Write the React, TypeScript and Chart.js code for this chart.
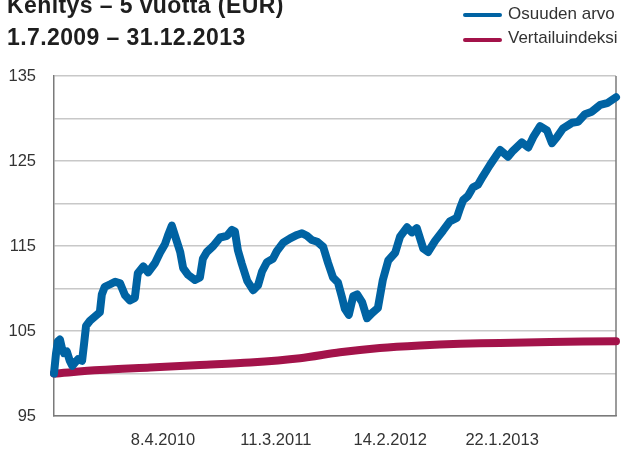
import React, { useEffect, useRef } from "react";
import { Chart, registerables } from "chart.js";

Chart.register(...registerables);

const titleLine1 = "Kehitys – 5 vuotta (EUR)";
const titleLine2 = "1.7.2009 – 31.12.2013";
const seriesNames = ["Osuuden arvo", "Vertailuindeksi"];
const seriesColors = ["#0063a3", "#a3134a"];

// Trading-day index (0 = 1.7.2009, 1140 = 31.12.2013)
const fundDays = [
  0, 4, 8, 12, 16, 20, 26, 32, 37, 43, 49, 57, 61, 65, 73, 83, 93, 97, 103, 114,
  124, 134, 144, 154, 164, 170, 181, 191, 205, 215, 225, 231, 239, 245, 256, 262,
  272, 286, 296, 302, 310, 323, 337, 351, 361, 367, 373, 381, 392, 404, 414, 422,
  432, 444, 452, 465, 479, 493, 503, 513, 523, 534, 546, 556, 566, 576, 584, 590,
  598, 607, 615, 625, 635, 645, 657, 667, 678, 692, 702, 716, 726, 736, 749, 759,
  773, 789, 803, 817, 824, 830, 840, 850, 860, 870, 884, 899, 905, 911, 921, 931,
  949, 962, 972, 986, 1000, 1010, 1020, 1032, 1051, 1063, 1077, 1091, 1108, 1122, 1140,
];
const fundValues = [
  100.0, 102.3, 103.8, 104.0, 103.0, 102.4, 102.6, 101.5, 100.9, 101.3, 101.7, 101.5, 103.5, 105.6, 106.2, 106.7, 107.2, 109.3, 110.2, 110.5,
  110.8, 110.6, 109.2, 108.6, 108.9, 111.8, 112.6, 111.9, 113.0, 114.2, 115.2, 116.2, 117.4, 116.3, 114.3, 112.4,
  111.6, 111.0, 111.3, 113.5, 114.3, 115.0, 116.0, 116.2, 116.9, 116.7, 114.5, 112.9, 110.9, 109.8, 110.4, 112.0,
  113.1, 113.5, 114.4, 115.4, 115.9, 116.3, 116.5, 116.2, 115.7, 115.5, 114.9, 113.0, 111.3, 110.7, 109.0, 107.6,
  106.9, 109.1, 109.3, 108.4, 106.5, 107.1, 107.7, 111.0, 113.3, 114.2, 116.1, 117.2, 116.6, 117.1, 114.7, 114.3,
  115.6, 116.8, 117.9, 118.3, 119.5, 120.4, 120.9, 121.9, 122.2, 123.2, 124.5, 125.8, 126.3, 126.0, 125.5, 126.2,
  127.2, 126.6, 127.8, 129.1, 128.6, 127.1, 127.8, 128.8, 129.5, 129.6, 130.5, 130.8, 131.6, 131.8, 132.5,
];

const indexDays = [0, 93, 195, 296, 398, 499, 580, 661, 742, 824, 905, 1006, 1140];
const indexValues = [100.0, 100.4, 100.7, 101.0, 101.3, 101.8, 102.5, 103.0, 103.3, 103.5, 103.6, 103.7, 103.8];

const xTickDays = [221, 450, 682, 909];
const xTickLabels = ["8.4.2010", "11.3.2011", "14.2.2012", "22.1.2013"];
const xMin = 0;
const xMax = 1140;
const yMin = 95;
const yMax = 135;
const yGridStep = 5;
const yLabelStep = 10;

const FONT = '"Liberation Sans", Arial, Helvetica, sans-serif';
const AXIS_COLOR = "#7a7a7a";

const frameRight = {
  id: "frameRight",
  beforeDatasetsDraw(chart: any) {
    const { ctx, chartArea } = chart;
    ctx.save();
    ctx.strokeStyle = AXIS_COLOR;
    ctx.lineWidth = 1.5;
    ctx.beginPath();
    ctx.moveTo(chartArea.right, chartArea.top);
    ctx.lineTo(chartArea.right, chartArea.bottom);
    ctx.stroke();
    ctx.restore();
  },
};

export default function App() {
  const canvasRef = useRef<HTMLCanvasElement | null>(null);

  useEffect(() => {
    const canvas = canvasRef.current;
    if (!canvas) return;
    const chart = new Chart(canvas, {
      type: "line",
      data: {
        datasets: [
          {
            label: seriesNames[0],
            data: fundDays.map((d, i) => ({ x: d, y: fundValues[i] })),
            borderColor: seriesColors[0],
            backgroundColor: seriesColors[0],
            borderWidth: 8,
            pointRadius: 0,
            tension: 0,
            borderJoinStyle: "round",
            borderCapStyle: "round",
            clip: false as any,
          },
          {
            label: seriesNames[1],
            data: indexDays.map((d, i) => ({ x: d, y: indexValues[i] })),
            borderColor: seriesColors[1],
            backgroundColor: seriesColors[1],
            borderWidth: 8,
            pointRadius: 0,
            tension: 0.3,
            borderJoinStyle: "round",
            borderCapStyle: "round",
            clip: false as any,
          },
        ],
      },
      options: {
        animation: false,
        responsive: false,
        maintainAspectRatio: false,
        layout: { padding: { left: 0, right: 6, top: 76, bottom: 0 } },
        plugins: {
          legend: { display: false },
          tooltip: { enabled: false },
          title: { display: false },
        },
        scales: {
          x: {
            type: "linear",
            min: xMin,
            max: xMax,
            afterBuildTicks: (s: any) => {
              s.ticks = xTickDays.map((v) => ({ value: v }));
            },
            afterFit: (s: any) => {
              s.height = 37;
            },
            ticks: {
              autoSkip: false,
              maxRotation: 0,
              padding: 15,
              color: "#333",
              font: { family: FONT, size: 16.5 },
              callback: (v: any) => {
                const i = xTickDays.indexOf(Number(v));
                return i >= 0 ? xTickLabels[i] : "";
              },
            },
            grid: { display: false, drawTicks: false },
            border: { display: true, color: AXIS_COLOR, width: 1.5 },
          },
          y: {
            type: "linear",
            min: yMin,
            max: yMax,
            afterFit: (s: any) => {
              s.width = 54;
            },
            ticks: {
              stepSize: yGridStep,
              padding: 18,
              color: "#333",
              font: { family: FONT, size: 16.5 },
              callback: (v: any) => ((Number(v) - yMin) % yLabelStep === 0 ? String(v) : ""),
            },
            grid: { color: "#c8c8c8", lineWidth: 1.5, drawTicks: false },
            border: { display: true, color: AXIS_COLOR, width: 1.5 },
          },
        },
      },
      plugins: [frameRight],
    });
    return () => chart.destroy();
  }, []);

  return (
    <div
      style={{
        position: "absolute",
        left: 0,
        top: 0,
        width: 622,
        height: 453,
        overflow: "hidden",
        background: "#fff",
        fontFamily: FONT,
      }}
    >
      <canvas ref={canvasRef} width={622} height={453} style={{ position: "absolute", left: 0, top: 0 }} />
      <div
        style={{
          position: "absolute",
          left: 7,
          top: -11,
          fontSize: 23,
          fontWeight: "bold",
          lineHeight: "32px",
          color: "#1e1e1e",
          whiteSpace: "nowrap",
          letterSpacing: 0.4,
        }}
      >
        <div>{titleLine1}</div>
        <div>{titleLine2}</div>
      </div>
      {seriesNames.map((name, i) => (
        <React.Fragment key={name}>
          <div
            style={{
              position: "absolute",
              left: 463,
              top: 13 + i * 24.5,
              width: 39,
              height: 4,
              borderRadius: 2,
              background: seriesColors[i],
            }}
          />
          <div
            style={{
              position: "absolute",
              left: 508,
              top: 4 + i * 23.5,
              fontSize: 17,
              lineHeight: "20px",
              color: "#333",
              whiteSpace: "nowrap",
            }}
          >
            {name}
          </div>
        </React.Fragment>
      ))}
    </div>
  );
}
